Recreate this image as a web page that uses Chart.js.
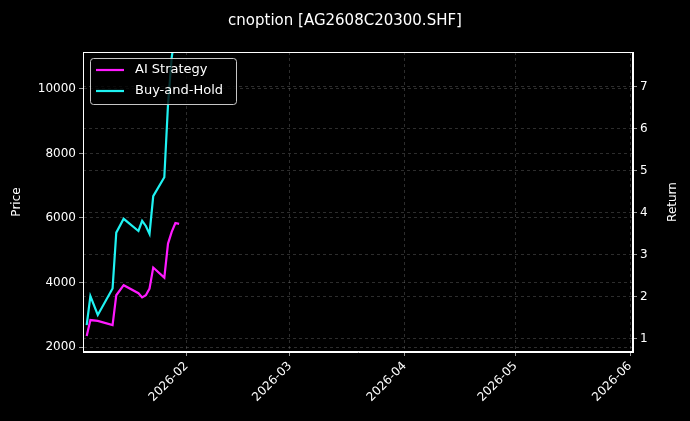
<!DOCTYPE html>
<html>
<head>
<meta charset="utf-8">
<script src="https://cdn.jsdelivr.net/npm/chart.js@4"></script>
<style>
  html, body { margin: 0; padding: 0; background: #000; }
  #wrap { width: 690px; height: 421px; }
</style>
</head>
<body>
<div id="wrap"><canvas id="c" width="690" height="421"></canvas></div>
<script>
// x values are day-of-year, Jan 1 2026 = 0
const days = [4, 5, 7, 11, 12, 14, 18, 19, 20, 21, 22, 25, 26, 27, 28, 29];
const aiStrategy = [1.07, 1.45, 1.43, 1.33, 2.04, 2.28, 2.09, 1.99, 2.04, 2.20, 2.70, 2.46, 3.27, 3.55, 3.76, 3.74];
const buyHold    = [1.33, 2.02, 1.57, 2.20, 3.53, 3.86, 3.57, 3.81, 3.69, 3.50, 4.40, 4.85, 6.58, 7.70, 8.30, 8.50];
const tickDays   = [31, 59, 90, 120, 151];
const tickLabels = ['2026-02', '2026-03', '2026-04', '2026-05', '2026-06'];

const pts = arr => arr.map((v, i) => ({ x: days[i], y: v }));
const gridStyle = { color: 'rgba(150,150,150,0.5)', lineWidth: 0.6, drawTicks: true, tickColor: '#fff', tickLength: 4 };
const axisBorder = { color: '#fff', width: 1, dash: [3, 3] };
const font = { family: 'DejaVu Sans', size: 12 };

// legend, frame and axis titles drawn by hand
const extras = {
  id: 'extras',
  afterDraw(chart) {
    const c = chart.ctx, a = chart.chartArea;
    c.save();
    c.strokeStyle = '#fff'; c.lineWidth = 1;
    c.strokeRect(a.left + 0.5, a.top + 0.5, a.right - a.left - 1, a.bottom - a.top - 1);

    c.fillStyle = 'rgba(0,0,0,0.8)';
    c.strokeStyle = 'rgba(220,220,220,0.9)';
    c.beginPath();
    c.roundRect(90.5, 58.5, 146, 46, 3);
    c.fill(); c.stroke();
    const items = [['AI Strategy', '#ff1aff'], ['Buy-and-Hold', '#1ff2f2']];
    c.font = '13px "DejaVu Sans"';
    c.textBaseline = 'middle';
    items.forEach((it, i) => {
      const y = 70 + i * 21;
      c.strokeStyle = it[1]; c.lineWidth = 2.2;
      c.beginPath(); c.moveTo(96, y); c.lineTo(124, y); c.stroke();
      c.fillStyle = '#fff';
      c.fillText(it[0], 135, y);
    });

    c.font = '12px "DejaVu Sans"';
    c.textAlign = 'center';
    [['Price', 17], ['Return', 673]].forEach(t => {
      c.save();
      c.translate(t[1], (a.top + a.bottom) / 2);
      c.rotate(-Math.PI / 2);
      c.fillText(t[0], 0, 0);
      c.restore();
    });
    c.restore();
  }
};

new Chart(document.getElementById('c'), {
  type: 'line',
  data: {
    datasets: [
      { label: 'AI Strategy', data: pts(aiStrategy), borderColor: '#ff1aff', borderWidth: 2.2, pointRadius: 0, tension: 0, clip: 0, yAxisID: 'yR' },
      { label: 'Buy-and-Hold', data: pts(buyHold), borderColor: '#1ff2f2', borderWidth: 2.2, pointRadius: 0, tension: 0, clip: 0, yAxisID: 'yR' }
    ]
  },
  options: {
    responsive: false,
    animation: false,
    layout: { padding: { top: 4, right: 0, left: 0, bottom: 0 } },
    plugins: {
      legend: { display: false },
      tooltip: { enabled: false },
      title: { display: true, text: 'cnoption [AG2608C20300.SHF]', color: '#fff', font: { family: 'DejaVu Sans', size: 15, weight: 'normal' }, padding: { top: 8, bottom: 22 } }
    },
    scales: {
      x: {
        type: 'linear', min: 3, max: 151.8,
        afterBuildTicks: ax => { ax.ticks = tickDays.map(v => ({ value: v })); },
        afterFit: ax => { ax.height = 69; },
        grid: gridStyle,
        border: axisBorder,
        ticks: { color: '#fff', font, maxRotation: 45, minRotation: 45, autoSkip: false,
          callback: v => tickLabels[tickDays.indexOf(v)] }
      },
      yL: {
        type: 'linear', position: 'left', min: 1850, max: 11140,
        afterBuildTicks: ax => { ax.ticks = [2000, 4000, 6000, 8000, 10000].map(v => ({ value: v })); },
        afterFit: ax => { ax.width = 83; },
        grid: gridStyle,
        border: axisBorder,
        ticks: { color: '#fff', font, callback: v => String(v) }
      },
      yR: {
        type: 'linear', position: 'right', min: 0.69, max: 7.83,
        afterBuildTicks: ax => { ax.ticks = [1, 2, 3, 4, 5, 6, 7].map(v => ({ value: v })); },
        afterFit: ax => { ax.width = 57; },
        grid: gridStyle,
        border: axisBorder,
        ticks: { color: '#fff', font, callback: v => String(v) }
      }
    }
  },
  plugins: [extras]
});
</script>
</body>
</html>
